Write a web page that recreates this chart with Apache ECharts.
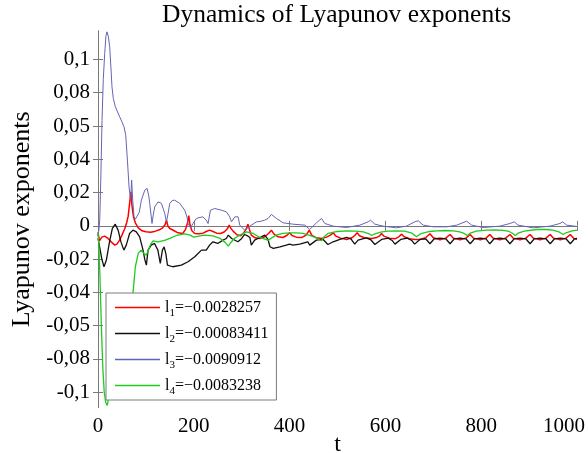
<!DOCTYPE html>
<html>
<head>
<meta charset="utf-8">
<script src="https://cdn.jsdelivr.net/npm/echarts@6/dist/echarts.min.js"></script>
<style>
html, body { margin: 0; padding: 0; background: #fff; }
#chart { width: 588px; height: 453px; }
</style>
</head>
<body>
<div id="chart"></div>
<script>
// Tick positions and their printed labels on the exponent axis
const yTickValues = [-0.1, -0.08, -0.06, -0.04, -0.02, 0, 0.02, 0.04, 0.06, 0.08, 0.1];
const yTickLabels = ['-0,1', '-0,08', '-0,05', '-0,04', '-0,02', '0', '0,02', '0,04', '0,05', '0,08', '0,1'];

// Legend entries: exponent index and final estimate
const seriesNames = ['l1', 'l2', 'l3', 'l4'];
const legendIndex = ['1', '2', '3', '4'];
const legendValues = ['\u22120.0028257', '\u22120.00083411', '\u22120.0090912', '\u22120.0083238'];

// Exponent l1 over time [t, value]
const l1Data = [
  [0,-0.004],[3,-0.009],[8,-0.0068],[14,-0.0062],[21,-0.0076],[28,-0.0098],[35,-0.0116],[40,-0.0108],
  [45,-0.0086],[50,-0.0056],[56,-0.0016],[60,0.002],[63,0.0058],[66,0.0135],[68.5,0.0204],[71,0.012],
  [74,0.0055],[78,0.0018],[84,-0.0012],[92,-0.003],[100,-0.0036],[110,-0.0038],[120,-0.0032],[128,-0.0024],
  [135,-0.0012],[140,0.0006],[143,0.0034],[146,-0.0002],[150,-0.0016],[158,-0.0028],[167,-0.0042],[177,-0.0046],
  [183,-0.002],[187,0.002],[189.5,0.0062],[192,0.0008],[196,-0.003],[202,-0.0046],[210,-0.0048],[219,-0.0044],
  [226,-0.0034],[233,-0.0026],[240,-0.0034],[248,-0.0044],[256,-0.0046],[264,-0.0036],[270,-0.0018],[274,0.0004],
  [277,-0.0014],[282,-0.0032],[290,-0.0054],[298,-0.006],[305,-0.004],[310,-0.0016],[313,0.001],[316,-0.002],
  [320,-0.0056],[328,-0.0072],[338,-0.0076],[348,-0.0066],[356,-0.0046],[362,-0.0026],[367,-0.0048],[376,-0.0066],
  [386,-0.007],[394,-0.0058],[400,-0.0042],[405,-0.0058],[414,-0.0068],[426,-0.007],[435,-0.0054],[441,-0.0026],
  [446,-0.0056],[456,-0.0072],[467,-0.0076],[477,-0.0068],[485,-0.0056],[491,-0.0042],[496,-0.006],[506,-0.0074],
  [519,-0.0082],[530,-0.0072],[536,-0.0058],[541,-0.0042],[546,-0.006],[556,-0.0072],[571,-0.0076],[582,-0.007],
  [588,-0.006],[592,-0.0046],[597,-0.0062],[608,-0.0074],[620,-0.0078],[628,-0.0066],[634,-0.005],[639,-0.0066],
  [650,-0.0078],[662,-0.0082],[672,-0.0082],[684,-0.0072],[693,-0.0048],[700,-0.0072],[714,-0.0084],[726,-0.0074],
  [735,-0.0052],[742,-0.0074],[756,-0.0084],[768,-0.0074],[777,-0.0052],[784,-0.0074],[798,-0.0084],[810,-0.0074],
  [818,-0.0052],[825,-0.0074],[839,-0.0084],[851,-0.0074],[860,-0.0052],[867,-0.0074],[881,-0.0084],[893,-0.0074],
  [902,-0.0052],[909,-0.0074],[923,-0.0084],[935,-0.0074],[944,-0.0052],[951,-0.0074],[965,-0.0084],[977,-0.0074],
  [986,-0.0052],[993,-0.0074],[1000,-0.0082]
];

// Exponent l2 over time [t, value]
const l2Data = [
  [0,-0.0076],[4,-0.0135],[8,-0.02],[12.5,-0.0246],[17.5,-0.0206],[24,-0.0096],[30,-0.0015],[36,0.001],
  [42,-0.0026],[48,-0.0098],[54,-0.0146],[59,-0.0116],[66,-0.0046],[73,-0.0026],[80,-0.0036],[87,-0.0066],
  [94,-0.0146],[98,-0.0206],[101,-0.0236],[104.5,-0.0146],[111,-0.0116],[118,-0.0106],[125,-0.0146],[130,-0.0226],
  [134.5,-0.0146],[138,-0.0126],[141.5,-0.0166],[145,-0.0236],[156,-0.0246],[174,-0.0236],[188,-0.0216],[202,-0.0186],
  [216,-0.0146],[226,-0.0146],[233,-0.0116],[240,-0.0096],[250,-0.0106],[261,-0.0086],[268,-0.0076],[272,-0.0056],
  [279,-0.0076],[292,-0.0096],[300,-0.0076],[306,-0.0052],[312,-0.006],[317,-0.007],[320,-0.0116],[327,-0.0086],
  [338,-0.007],[348,-0.0056],[355,-0.0082],[359,-0.0126],[366,-0.0136],[380,-0.0126],[393,-0.0116],[400,-0.011],
  [407,-0.0116],[421,-0.011],[438,-0.0096],[442,-0.0116],[456,-0.0086],[470,-0.0082],[480,-0.0112],[491,-0.0096],
  [505,-0.0082],[519,-0.007],[528,-0.0078],[536,-0.011],[543,-0.0086],[560,-0.0072],[570,-0.0085],[578,-0.0112],
  [592,-0.0082],[606,-0.0074],[614,-0.0088],[620,-0.011],[632,-0.0082],[646,-0.0074],[655,-0.0088],[661,-0.011],
  [672,-0.0082],[684,-0.0078],[693,-0.0108],[702,-0.0078],[714,-0.0074],[726,-0.0078],[735,-0.0108],[744,-0.0078],
  [756,-0.0074],[768,-0.0078],[777,-0.0108],[786,-0.0078],[798,-0.0074],[810,-0.0078],[818,-0.0108],[827,-0.0078],
  [839,-0.0074],[851,-0.0078],[860,-0.0108],[869,-0.0078],[881,-0.0074],[893,-0.0078],[902,-0.0108],[911,-0.0078],
  [923,-0.0074],[935,-0.0078],[944,-0.0108],[953,-0.0078],[965,-0.0074],[977,-0.0078],[986,-0.0108],[995,-0.0078],
  [1000,-0.0076]
];

// Exponent l3 over time [t, value]
const l3Data = [
  [0,-0.006],[2,-0.002],[3.6,0.0034],[6,0.03],[8.4,0.0634],[11,0.088],[14,0.1036],[16.5,0.114],
  [18.8,0.1166],[21.5,0.114],[24.4,0.1076],[27,0.095],[29.2,0.0835],[32,0.0765],[36.3,0.0715],[40,0.069],
  [45.3,0.0655],[50,0.0625],[54.3,0.0595],[57.9,0.0545],[61.4,0.0395],[64.8,0.0234],[68.3,0.0154],[70.2,0.0275],
  [72.5,0.0154],[75.2,0.0054],[78,0.004],[82,0.0034],[86,0.008],[90.6,0.0154],[97.6,0.0214],[102.4,0.0225],
  [106,0.018],[108,0.0135],[112.8,0.0014],[115,0.006],[118.5,0.0114],[125.3,0.0144],[132.4,0.0135],[139.3,0.0075],
  [142.9,0.0024],[146,0.007],[149.8,0.0134],[155,0.0152],[160,0.0154],[170.7,0.0135],[181,0.0094],[186,0.005],
  [188,0.0014],[193,-0.0012],[198.5,0.0014],[204,0.004],[209,0.0048],[219,0.0054],[226,0.0034],[229.8,0.0014],
  [234.8,0.0094],[243.8,0.0104],[257.8,0.0094],[268,0.0084],[275,0.0054],[278.7,0.0024],[285.6,0.0054],[292.5,0.0054],
  [296,0.0004],[306,-0.0026],[317,-0.0002],[331,0.0024],[338,0.0026],[348,0.0034],[355,0.0044],[362,0.0068],
  [372.7,0.0044],[386.5,0.0018],[407,0.001],[431.8,0.0004],[442,-0.0022],[456,0.0018],[466.7,0.0044],[473.6,0.0014],
  [491,-0.0002],[519,-0.001],[546.7,0.0004],[564,0.0024],[569,0.0034],[578,0.001],[595,-0.0002],[623,-0.0012],
  [644,-0.0002],[661,0.0024],[668.5,0.003],[679,0.0004],[700,-0.0006],[728,-0.0006],[749,0.0004],[769.6,0.0028],
  [780,0.0004],[804,-0.001],[839,-0.0002],[860,0.0014],[869,0.0024],[877,0.0004],[908.7,-0.0012],[943.6,-0.0002],
  [964.5,0.0014],[970,0.0024],[978.5,0.0004],[1000,-0.0004]
];

// Exponent l4 over time [t, value]
const l4Data = [
  [0,-0.004],[2,-0.012],[4,-0.03],[7,-0.06],[10,-0.085],[13,-0.1],[16,-0.106],[19.5,-0.108],
  [22,-0.103],[26,-0.098],[35,-0.094],[45,-0.09],[55,-0.082],[62,-0.07],[66,-0.06],[70,-0.05],
  [73,-0.0406],[78,-0.0246],[84,-0.0166],[90,-0.0146],[96,-0.0166],
  [101,-0.0176],[105,-0.0146],[110,-0.011],[115,-0.009],[125,-0.0096],[139,-0.0088],[150,-0.0076],[164,-0.0058],
  [181,-0.0048],[192,-0.0056],[200,-0.0068],[210,-0.0062],[222,-0.0056],[240,-0.006],[255,-0.0076],[265,-0.0098],
  [272,-0.0122],[276,-0.0105],[285,-0.0075],[296,-0.0056],[310,-0.0036],[324,-0.0046],[338,-0.007],[350,-0.0082],
  [355,-0.0088],[362,-0.0074],[372,-0.0056],[386,-0.0046],[400,-0.0042],[414,-0.0042],[428,-0.0046],[445,-0.006],
  [458,-0.0076],[466,-0.009],[472,-0.0066],[480,-0.0046],[500,-0.0034],[519,-0.003],[538,-0.0032],[554,-0.0036],
  [566,-0.0048],[571,-0.0058],[578,-0.0048],[590,-0.0038],[605,-0.0032],[623,-0.003],[640,-0.0032],[654,-0.0042],
  [665,-0.0066],[672,-0.005],[680,-0.0042],[693,-0.0034],[707,-0.003],[725,-0.0028],[742,-0.003],[755,-0.0036],
  [763,-0.0044],[771,-0.0058],[777,-0.0044],[790,-0.0032],[811,-0.0026],[830,-0.0025],[846,-0.0027],[858,-0.0034],
  [866,-0.0046],[871,-0.0058],[877,-0.0044],[890,-0.0032],[916,-0.0022],[935,-0.0022],[950,-0.0026],[962,-0.0036],
  [971,-0.0052],[977,-0.0042],[990,-0.003],[1000,-0.0026]
];

const seriesData = [l1Data, l2Data, l3Data, l4Data];
const seriesColors = ['#ff0000', '#111111', '#6464b4', '#1ecc1e'];
const seriesWidths = [1.5, 1.3, 1, 1.3];

const FONT = "'Liberation Serif', 'Times New Roman', serif";
const AXIS_GRAY = '#7a7a7a';
const Y_MIN = -0.1092, Y_MAX = 0.1171;
const X_MAX = 1000;

const chart = echarts.init(document.getElementById('chart'), null, { renderer: 'canvas' });

const yLabelFor = v => {
  const i = Math.round((v + 0.1) / 0.02);
  return yTickLabels[i] !== undefined ? yTickLabels[i] : '';
};
// the last time label is pulled inward so it stays inside the canvas
const xLabelFor = v => (v === X_MAX ? '{last|' + v + '}' : String(v));

const boxAxisLine = { show: true, lineStyle: { color: AXIS_GRAY, width: 1 } };
const innerTick = { show: true, inside: true, length: 5, lineStyle: { color: AXIS_GRAY, width: 1 } };

chart.setOption({
  animation: false,
  backgroundColor: '#ffffff',
  title: {
    text: 'Dynamics of Lyapunov exponents',
    left: 162,
    top: 2,
    padding: 0,
    textStyle: { fontFamily: FONT, fontSize: 25.5, fontWeight: 'normal', color: '#000' }
  },
  grid: { left: 98, right: 11, top: 31, bottom: 45.5, containLabel: false, outerBoundsMode: 'none' },
  legend: {
    orient: 'vertical',
    left: 106,
    top: 293,
    z: 20,
    data: seriesNames.map(n => ({ name: n, icon: 'rect' })),
    itemWidth: 45,
    itemHeight: 1.6,
    itemGap: 3,
    padding: [3, 8, 3, 9],
    backgroundColor: '#ffffff',
    borderColor: AXIS_GRAY,
    borderWidth: 1,
    borderRadius: 0,
    selectedMode: false,
    formatter: name => {
      const i = seriesNames.indexOf(name);
      return '{n|l}{s|' + legendIndex[i] + '}{n|=' + legendValues[i] + '}';
    },
    textStyle: {
      fontFamily: FONT,
      color: '#000',
      rich: {
        n: { fontFamily: FONT, fontSize: 16, color: '#000', lineHeight: 18 },
        s: { fontFamily: FONT, fontSize: 11, color: '#000', lineHeight: 12, padding: [12, 0, 0, 0] }
      }
    }
  },
  xAxis: [
    {
      type: 'value', position: 'bottom', min: 0, max: X_MAX, interval: 200,
      axisLine: boxAxisLine, axisTick: innerTick, splitLine: { show: false },
      axisLabel: {
        show: true, margin: 8, fontFamily: FONT, fontSize: 21, color: '#000',
        formatter: xLabelFor,
        rich: { last: { fontFamily: FONT, fontSize: 21, color: '#000', padding: [0, 26, 0, 0] } }
      },
      name: 't', nameLocation: 'middle', nameGap: 25, nameMoveOverlap: false,
      nameTextStyle: { fontFamily: FONT, fontSize: 24, color: '#000', verticalAlign: 'top' }
    },
    {
      type: 'value', position: 'top', min: 0, max: X_MAX, interval: 200,
      axisLine: boxAxisLine, axisTick: innerTick, splitLine: { show: false },
      axisLabel: { show: false }
    }
  ],
  yAxis: [
    {
      type: 'value', position: 'left', min: Y_MIN, max: Y_MAX,
      axisLine: boxAxisLine,
      axisTick: Object.assign({}, innerTick, { customValues: yTickValues }),
      splitLine: { show: false },
      axisLabel: {
        show: true, customValues: yTickValues, margin: 8,
        fontFamily: FONT, fontSize: 21, color: '#000',
        formatter: v => yLabelFor(v)
      },
      name: 'Lyapunov exponents', nameLocation: 'middle', nameRotate: 90, nameGap: 60,
      nameTextStyle: { fontFamily: FONT, fontSize: 26, color: '#000' }
    },
    {
      type: 'value', position: 'right', min: Y_MIN, max: Y_MAX,
      axisLine: boxAxisLine,
      axisTick: Object.assign({}, innerTick, { customValues: yTickValues }),
      splitLine: { show: false },
      axisLabel: { show: false }
    }
  ],
  series: seriesNames.map((name, i) => ({
    name: name,
    type: 'line',
    xAxisIndex: 0,
    yAxisIndex: 0,
    data: seriesData[i],
    symbol: 'none',
    smooth: false,
    clip: true,
    color: seriesColors[i],
    lineStyle: { color: seriesColors[i], width: seriesWidths[i] },
    z: 2
  }))
});
</script>
</body>
</html>
